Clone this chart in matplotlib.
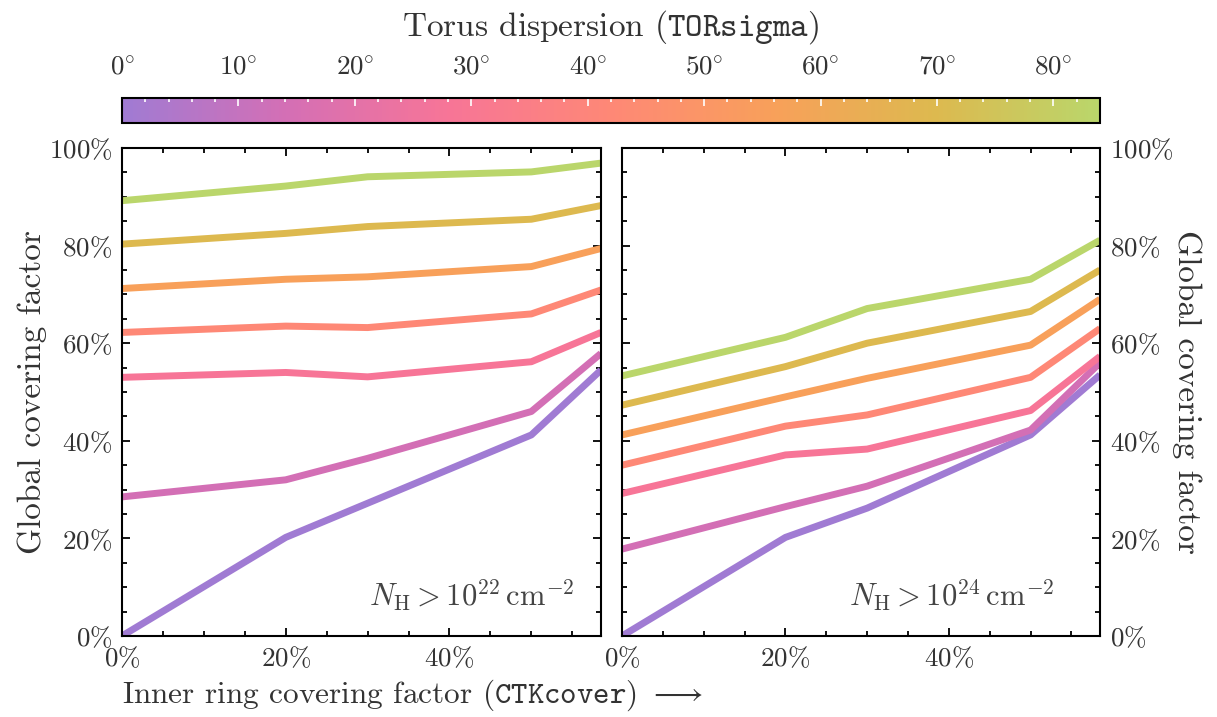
import numpy as np
import matplotlib
matplotlib.use("Agg")
import matplotlib.pyplot as plt
from matplotlib.colors import LinearSegmentedColormap, Normalize
from matplotlib.cm import ScalarMappable
from matplotlib.ticker import MultipleLocator, FuncFormatter

plt.rcParams.update({
    'font.family': 'serif',
    'font.serif': ['cmr10'],
    'mathtext.fontset': 'cm',
    'axes.unicode_minus': False,
    'axes.formatter.use_mathtext': True,
    'text.color': '#333333',
    'axes.labelcolor': '#333333',
    'xtick.labelcolor': '#333333',
    'ytick.labelcolor': '#333333',
})

# ---- data (percent) ----
ctk_cover = [0, 20, 30, 50, 58.5]
tor_sigma = [0, 14, 28, 42, 56, 70, 84]

# global covering factor for NH > 1e22
cover_22 = [
    [0.0, 20.2, 27.2, 41.2, 54.5],
    [28.5, 32.0, 36.4, 46.0, 57.9],
    [53.0, 54.0, 53.1, 56.2, 62.2],
    [62.2, 63.5, 63.2, 66.0, 70.9],
    [71.2, 73.1, 73.6, 75.7, 79.4],
    [80.3, 82.5, 83.9, 85.4, 88.2],
    [89.2, 92.2, 94.1, 95.1, 96.9],
]

# global covering factor for NH > 1e24
cover_24 = [
    [0.0, 20.2, 26.2, 41.2, 53.5],
    [17.8, 26.5, 30.7, 42.2, 56.0],
    [29.2, 37.1, 38.3, 46.2, 57.3],
    [35.0, 43.0, 45.3, 53.0, 63.0],
    [41.2, 49.0, 52.8, 59.6, 69.0],
    [47.3, 55.2, 60.0, 66.5, 75.0],
    [53.3, 61.2, 67.1, 73.1, 81.1],
]

cmap = LinearSegmentedColormap.from_list(
    'torus', ['#a07bd3', '#d46fb5', '#f77597', '#fe8876', '#f8a05a', '#ddb94f', '#bad66b'])
norm = Normalize(0, 84)

pct = FuncFormatter(lambda v, p: r"$%d\%%$" % round(v))
deg = FuncFormatter(lambda v, p: r"$%d\!^\circ$" % round(v))

fig = plt.figure(figsize=(12.17, 7.17), dpi=100)
ax1 = fig.add_axes([0.1002, 0.113, 0.3936, 0.6806])
ax2 = fig.add_axes([0.5111, 0.113, 0.3928, 0.6806])
cax = fig.add_axes([0.1002, 0.8285, 0.8036, 0.0349])

tick_fs = 19.5
label_fs = 24

for ax, data, label, xt in [(ax1, cover_22, r"$N_\mathrm{H} > 10^{22}\,\mathrm{cm}^{-2}$", 0.945),
                            (ax2, cover_24, r"$N_\mathrm{H} > 10^{24}\,\mathrm{cm}^{-2}$", 0.905)]:
    for sig, ys in zip(tor_sigma, data):
        ax.plot(ctk_cover, ys, color=cmap(norm(sig)), lw=5, solid_capstyle='butt')
    ax.set_xlim(0, 58.5)
    ax.set_ylim(0, 100)
    ax.xaxis.set_major_locator(MultipleLocator(20))
    ax.xaxis.set_minor_locator(MultipleLocator(5))
    ax.yaxis.set_major_locator(MultipleLocator(20))
    ax.yaxis.set_minor_locator(MultipleLocator(5))
    ax.xaxis.set_major_formatter(pct)
    ax.yaxis.set_major_formatter(pct)
    ax.tick_params(which='both', direction='in', top=True, right=True, width=1.3, labelsize=tick_fs)
    ax.tick_params(which='major', length=6, pad=7)
    ax.tick_params(which='minor', length=3.5)
    for s in ax.spines.values():
        s.set_linewidth(1.5)
    ax.text(xt, 0.045, label, transform=ax.transAxes, ha='right', va='bottom',
            fontsize=22, color='#444444')

ax1.set_ylabel("Global covering factor", fontsize=label_fs, labelpad=1)
ax1.set_xlabel(r"Inner ring covering factor ($\mathtt{CTKcover}$) $\longrightarrow$",
               fontsize=22.5, loc='left', labelpad=4)

ax2.yaxis.set_label_position('right')
ax2.tick_params(axis='y', labelleft=False, labelright=True)
ax2.set_ylabel("Global covering factor", fontsize=label_fs, rotation=270, labelpad=20)

cb = fig.colorbar(ScalarMappable(norm=norm, cmap=cmap), cax=cax, orientation='horizontal')
cb.outline.set_linewidth(1.5)
cax.xaxis.set_ticks_position('top')
cax.xaxis.set_label_position('top')
cax.xaxis.set_major_locator(MultipleLocator(10))
cax.xaxis.set_minor_locator(MultipleLocator(2))
cax.xaxis.set_major_formatter(deg)
cax.tick_params(which='both', direction='in', color='white', width=1.2, labelsize=tick_fs)
cax.tick_params(which='major', length=6, pad=13)
cax.tick_params(which='minor', length=3)
cax.set_xlabel(r"Torus dispersion ($\mathtt{TORsigma}$)", fontsize=label_fs, labelpad=15)

fig.savefig("out.png", dpi=100)
